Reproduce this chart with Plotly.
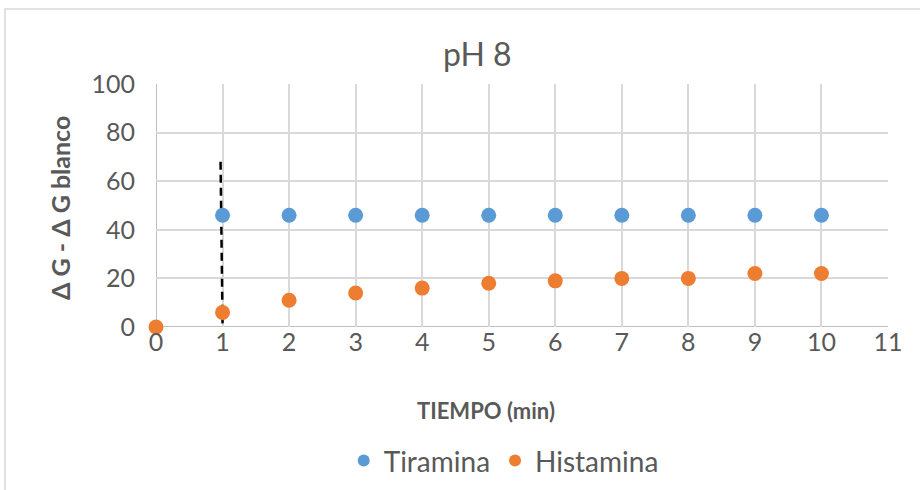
import plotly.graph_objects as go

# Time points (min) and measured response for each amine at pH 8
tiempo_tiramina = [1, 2, 3, 4, 5, 6, 7, 8, 9, 10]
tiramina = [46, 46, 46, 46, 46, 46, 46, 46, 46, 46]

tiempo_histamina = [0, 1, 2, 3, 4, 5, 6, 7, 8, 9, 10]
histamina = [0, 6, 11, 14, 16, 18, 19, 20, 20, 22, 22]

# Dashed reference marker at minute 1
ref_x = [0.97, 1.0]
ref_y = [68, 1.5]

x_ticks = [0, 1, 2, 3, 4, 5, 6, 7, 8, 9, 10, 11]
y_ticks = [0, 20, 40, 60, 80, 100]

FONT = "Lato"
TXT = "#595959"

fig = go.Figure()

fig.add_trace(go.Scatter(
    x=ref_x, y=ref_y, mode="lines",
    line=dict(color="black", width=2.5, dash="8px,5px"),
    showlegend=False, hoverinfo="skip", cliponaxis=False,
))
fig.add_trace(go.Scatter(
    x=tiempo_tiramina, y=tiramina, mode="markers", name="Tiramina",
    marker=dict(color="#5b9bd5", size=15), cliponaxis=False,
))
fig.add_trace(go.Scatter(
    x=tiempo_histamina, y=histamina, mode="markers", name="Histamina",
    marker=dict(color="#ed7d31", size=15), cliponaxis=False,
))

fig.update_layout(
    width=920, height=490,
    margin=dict(l=156, r=32, t=84, b=163, autoexpand=False),
    paper_bgcolor="white", plot_bgcolor="white",
    font=dict(family=FONT, color=TXT),
    showlegend=True,
    legend=dict(
        orientation="h", x=0.475, xanchor="center", y=-0.551, yanchor="middle",
        font=dict(size=28, color=TXT), itemsizing="constant",
        traceorder="normal", itemwidth=30,
    ),
    annotations=[
        dict(text="pH 8", x=(477 - 156) / 732, y=(327 - 53) / 243,
             xref="paper", yref="paper", showarrow=False,
             font=dict(size=32, color=TXT), xanchor="center", yanchor="middle"),
        dict(text="<b>TIEMPO (min)</b>", x=(486 - 156) / 732, y=(327 - 410) / 243,
             xref="paper", yref="paper", showarrow=False,
             font=dict(size=22, color=TXT), xanchor="center", yanchor="middle"),
        dict(text="<b>Δ G - Δ G blanco</b>", x=(60 - 156) / 732, y=(327 - 208) / 243,
             xref="paper", yref="paper", showarrow=False, textangle=-90,
             font=dict(size=25, color=TXT), xanchor="center", yanchor="middle"),
    ],
    shapes=[
        dict(type="rect", xref="paper", yref="paper",
             x0=(5 - 156) / 732, x1=(940 - 156) / 732,
             y0=(327 - 520) / 243, y1=(327 - 9) / 243,
             line=dict(color="#d9d9d9", width=1.5), fillcolor="rgba(0,0,0,0)",
             layer="below"),
    ],
)

fig.update_xaxes(
    range=[0, 11], tickvals=x_ticks, ticktext=[str(v) for v in x_ticks],
    showgrid=True, gridcolor="#d9d9d9", gridwidth=1.5,
    zeroline=False, showline=False, ticks="",
    tickfont=dict(size=25, color=TXT), ticklabelstandoff=-2,
)
fig.update_yaxes(
    range=[0, 100], tickvals=y_ticks, ticktext=[str(v) for v in y_ticks],
    showgrid=True, gridcolor="#d9d9d9", gridwidth=1.5,
    zeroline=False, showline=False, ticks="",
    tickfont=dict(size=25, color=TXT), ticklabelstandoff=20,
)

# Axis lines at x=0 and y=0 in a darker grey than the grid
fig.add_shape(type="line", xref="x", yref="y", x0=0, x1=11, y0=0, y1=0,
              line=dict(color="#bfbfbf", width=2), layer="below")
fig.add_shape(type="line", xref="x", yref="y", x0=0, x1=0, y0=0, y1=100,
              line=dict(color="#bfbfbf", width=2), layer="below")

fig.write_html("out.html")
